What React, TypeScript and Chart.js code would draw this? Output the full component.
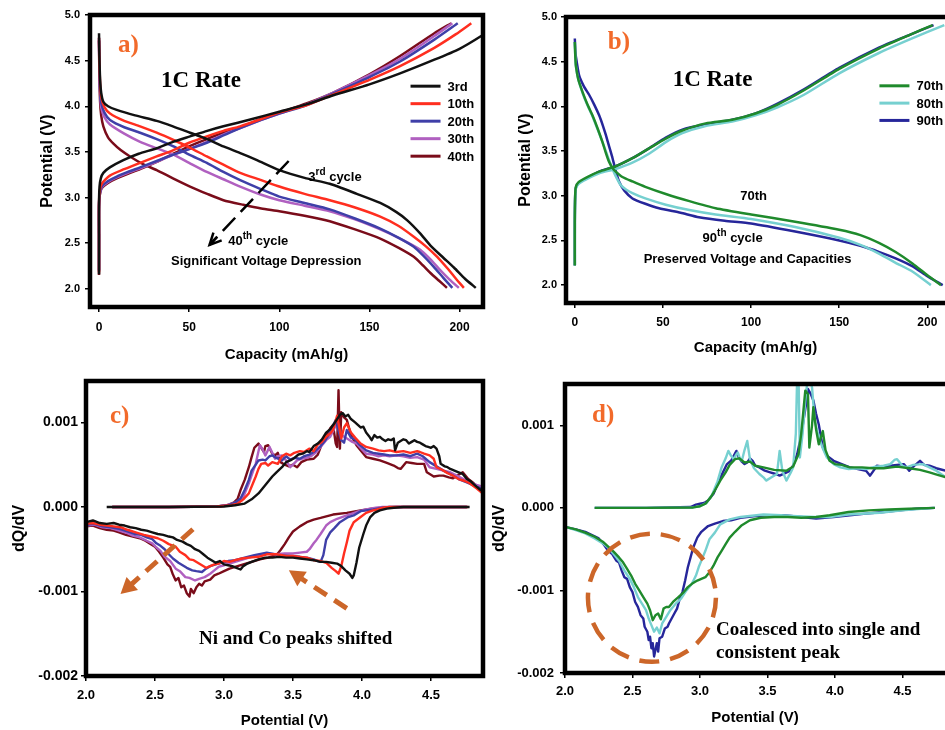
import React, { useEffect, useRef } from "react";
import { Chart, registerables } from "chart.js";

Chart.register(...registerables);

const SANS = "'Liberation Sans', Arial, Helvetica, sans-serif";
const SERIF = "'Liberation Serif', 'Times New Roman', serif";
Chart.defaults.font.family = SANS;

type Pt = [number, number];

// ---------------- tick values ----------------
const capTicks = [0, 50, 100, 150, 200];
const potTicks = [2.0, 2.5, 3.0, 3.5, 4.0, 4.5, 5.0];
const voltTicks = [2.0, 2.5, 3.0, 3.5, 4.0, 4.5];
const dqdvTicks = [-2, -1, 0, 1]; // in units of 1e-3

// ---------------- categories ----------------
const cyclesA = ["3rd", "10th", "20th", "30th", "40th"];
const cyclesB = ["70th", "80th", "90th"];
const colorsA = ["#111111", "#ff2e1f", "#3f3fa8", "#b060c0", "#7a0c1a"];
const colorsB = ["#1f8a2c", "#76d0d0", "#26269a"];

// ---------------- panel a: capacity (mAh/g) vs potential (V) ----------------
const a3Charge: Pt[] = [[0,2.16],[0,2.6],[0,2.95],[0.3,3.12],[1,3.21],[2.4,3.27],[6,3.33],[13.5,3.41],[22,3.48],[32,3.54],[41,3.61],[50.5,3.67],[60,3.73],[69,3.78],[85,3.86],[100,3.94],[115,4.02],[130,4.12],[150,4.24],[167,4.36],[186,4.51],[200,4.63],[212,4.77],[216,4.83]];
const a10Charge: Pt[] = [[0,2.18],[0,2.6],[0,2.92],[0.4,3.07],[1.5,3.15],[6,3.24],[14,3.31],[22.8,3.38],[32,3.45],[41.3,3.52],[50,3.6],[59.8,3.67],[69,3.73],[78.3,3.78],[90,3.86],[100,3.93],[115,4.01],[130,4.13],[150,4.29],[167,4.44],[186,4.64],[198,4.79],[206.5,4.91]];
const a20Charge: Pt[] = [[0,2.2],[0,2.6],[0,2.9],[0.4,3.04],[1.5,3.12],[5,3.18],[9.8,3.23],[16,3.28],[22.8,3.33],[32,3.4],[41.3,3.47],[50,3.53],[59.8,3.6],[69,3.68],[78.3,3.76],[90,3.85],[100,3.92],[115,4.01],[130,4.14],[150,4.32],[167,4.49],[186,4.73],[199,4.91]];
const a30Charge: Pt[] = [[0,2.2],[0,2.6],[0,2.9],[0.4,3.03],[1.5,3.11],[5,3.17],[9.8,3.22],[16,3.27],[22.8,3.32],[32,3.39],[41.3,3.47],[50,3.53],[59.8,3.61],[69,3.69],[78.3,3.76],[90,3.85],[100,3.92],[115,4.02],[130,4.15],[150,4.34],[167,4.52],[186,4.77],[196,4.91]];
const a40Charge: Pt[] = [[0,2.15],[0,2.6],[0,2.9],[0.4,3.02],[1.5,3.1],[5,3.16],[9.8,3.21],[16,3.26],[22.8,3.31],[32,3.39],[41.3,3.48],[50,3.56],[59.8,3.64],[69,3.71],[78.3,3.77],[90,3.86],[100,3.93],[115,4.03],[130,4.15],[150,4.35],[167,4.55],[186,4.8],[195.4,4.91]];

const a3Dis: Pt[] = [[0,4.8],[0.2,4.55],[0.6,4.3],[1.2,4.15],[2.4,4.05],[5,4.0],[9.8,3.96],[20,3.9],[32,3.84],[41,3.78],[50.5,3.71],[60,3.64],[69,3.56],[78,3.49],[87.6,3.41],[100,3.3],[115,3.21],[128,3.15],[143,3.04],[156,2.94],[165,2.84],[171,2.75],[178,2.61],[184,2.47],[191,2.34],[197,2.23],[203,2.11],[209,2.01]];
const a10Dis: Pt[] = [[0,4.75],[0.2,4.5],[0.6,4.25],[1.2,4.1],[3,3.99],[6.1,3.92],[14,3.84],[22.8,3.78],[32,3.71],[41.3,3.63],[50,3.55],[59.8,3.45],[69,3.36],[78.3,3.27],[90,3.19],[100,3.12],[114,3.04],[128,2.97],[142,2.89],[156,2.79],[166,2.69],[174.6,2.57],[181,2.47],[187.6,2.35],[193,2.23],[198,2.11],[202.4,2.01]];
const a20Dis: Pt[] = [[0,4.75],[0.2,4.45],[0.6,4.18],[1.2,4.04],[3,3.93],[6.1,3.85],[14,3.77],[22.8,3.71],[32,3.64],[41.3,3.56],[50,3.47],[59.8,3.38],[69,3.28],[78.3,3.19],[90,3.09],[100,3.01],[114,2.94],[128,2.87],[142,2.77],[156,2.66],[166,2.56],[174.6,2.46],[180,2.36],[185.7,2.24],[191,2.12],[196,2.01]];
const a30Dis: Pt[] = [[0,4.72],[0.2,4.4],[0.6,4.14],[1.2,3.99],[3,3.88],[6.1,3.8],[14,3.7],[22.8,3.61],[32,3.54],[41.3,3.47],[50,3.38],[59.8,3.28],[69,3.2],[78.3,3.12],[90,3.03],[100,2.97],[114,2.91],[128,2.85],[142,2.76],[156,2.65],[167,2.55],[178,2.43],[184,2.32],[189,2.21],[194.5,2.1],[199.6,2.01]];
const a40Dis: Pt[] = [[0,4.72],[0.2,4.35],[0.6,4.05],[1.2,3.9],[2.4,3.78],[5,3.66],[8,3.59],[12,3.52],[17.2,3.45],[24,3.37],[32,3.3],[41,3.21],[50.5,3.12],[60,3.04],[69,2.97],[80,2.92],[90,2.88],[100,2.85],[114,2.8],[128,2.74],[142,2.65],[156,2.55],[166,2.45],[174.6,2.35],[180,2.25],[184,2.17],[188.5,2.09],[193,2.01]];

// ---------------- panel b ----------------
const b70Charge: Pt[] = [[0,2.22],[0,2.7],[0.2,3.0],[0.6,3.1],[2,3.15],[6.2,3.2],[13.8,3.27],[23.2,3.33],[32.7,3.42],[42.1,3.53],[51.6,3.64],[61,3.73],[74.2,3.81],[89.3,3.85],[102.5,3.92],[115,4.02],[130,4.18],[150,4.42],[172.8,4.65],[190,4.8],[203,4.91]];
const b80Charge: Pt[] = [[0,2.22],[0,2.7],[0.2,2.98],[0.6,3.08],[2,3.13],[6.2,3.18],[13.8,3.25],[23.2,3.3],[32.7,3.37],[42.1,3.47],[51.6,3.6],[61,3.7],[74.2,3.78],[89.3,3.83],[102.5,3.9],[115,3.99],[130,4.13],[150,4.37],[172.8,4.6],[190,4.75],[209.6,4.91]];
const b90Charge: Pt[] = [[0,2.22],[0,2.7],[0.2,2.99],[0.6,3.09],[2,3.14],[6.2,3.19],[13.8,3.27],[23.2,3.33],[32.7,3.42],[42.1,3.53],[51.6,3.65],[61,3.74],[74.2,3.8],[89.3,3.85],[102.5,3.92],[115,4.03],[130,4.19],[150,4.43],[172.8,4.66],[190,4.8],[203.5,4.91]];

const b70Dis: Pt[] = [[0,4.72],[0.3,4.55],[0.6,4.46],[2,4.3],[4.4,4.16],[7,4.03],[10,3.9],[13,3.75],[15.7,3.6],[17.6,3.48],[19.4,3.38],[21.4,3.31],[23.2,3.27],[27,3.21],[32.7,3.16],[40,3.1],[51.6,3.02],[65,2.94],[79.9,2.86],[100,2.79],[125,2.71],[150,2.62],[162,2.56],[172.8,2.47],[182,2.37],[191.7,2.24],[200,2.11],[207.7,2.0]];
const b80Dis: Pt[] = [[0,4.72],[0.3,4.55],[0.6,4.45],[2,4.3],[4.4,4.15],[7,4.02],[10,3.89],[13,3.74],[15.7,3.6],[17.6,3.5],[19.4,3.4],[21.4,3.3],[23.2,3.22],[26,3.12],[29,3.07],[32.7,3.03],[40,2.97],[51.6,2.9],[65,2.84],[79.9,2.79],[100,2.74],[125,2.65],[150,2.53],[162,2.45],[172.8,2.35],[182,2.25],[191.7,2.15],[202,2.0]];
const b90Dis: Pt[] = [[0,4.76],[0.3,4.62],[0.6,4.56],[2.4,4.35],[5,4.23],[8.1,4.13],[11,4.02],[13.8,3.9],[16,3.78],[17.6,3.68],[19.5,3.55],[21.4,3.42],[23.2,3.28],[25.1,3.16],[28,3.06],[32.7,2.97],[40,2.91],[47.8,2.86],[60,2.81],[70.4,2.76],[85,2.72],[100,2.69],[125,2.6],[150,2.5],[162,2.44],[172.8,2.37],[182,2.3],[191.7,2.21],[200,2.1],[208.7,2.0]];

// ---------------- panel c: potential (V) vs dQ/dV (x1e-3) ----------------
const c3Ch: Pt[] = [[2.15,0],[2.6,0],[3.0,0.005],[3.08,0.02],[3.15,0.04],[3.2,0.09],[3.25,0.16],[3.3,0.26],[3.35,0.36],[3.38,0.41],[3.42,0.47],[3.45,0.53],[3.48,0.55],[3.51,0.58],[3.54,0.62],[3.57,0.63],[3.6,0.66],[3.62,0.65],[3.65,0.72],[3.68,0.75],[3.71,0.8],[3.74,0.88],[3.77,0.92],[3.8,0.99],[3.82,1.04],[3.84,1.09],[3.86,1.11],[3.88,1.07],[3.9,1.09],[3.92,1.04],[3.95,1.0],[3.97,0.97],[3.99,0.94],[4.01,0.95],[4.03,0.88],[4.05,0.84],[4.07,0.79],[4.09,0.85],[4.11,0.82],[4.13,0.83],[4.15,0.8],[4.17,0.78],[4.19,0.8],[4.21,0.79],[4.23,0.81],[4.24,0.67],[4.26,0.76],[4.28,0.78],[4.3,0.8],[4.32,0.79],[4.34,0.75],[4.36,0.77],[4.38,0.79],[4.4,0.77],[4.42,0.76],[4.44,0.74],[4.46,0.72],[4.48,0.71],[4.5,0.7],[4.52,0.72],[4.54,0.69],[4.56,0.6],[4.57,0.51],[4.6,0.48],[4.62,0.47],[4.64,0.45],[4.67,0.43],[4.7,0.41],[4.73,0.39],[4.76,0.33],[4.79,0.3],[4.81,0.27],[4.83,0.24],[4.86,0.2],[4.89,0.18],[4.92,0.16]];
const c10Ch: Pt[] = [[2.19,0],[2.6,0],[2.95,0.005],[3.05,0.02],[3.1,0.04],[3.14,0.09],[3.18,0.16],[3.21,0.28],[3.23,0.36],[3.25,0.45],[3.27,0.51],[3.3,0.52],[3.32,0.49],[3.35,0.53],[3.39,0.51],[3.42,0.6],[3.45,0.63],[3.48,0.61],[3.51,0.64],[3.55,0.66],[3.58,0.65],[3.62,0.69],[3.65,0.66],[3.68,0.74],[3.71,0.77],[3.74,0.83],[3.77,0.87],[3.79,0.91],[3.82,1.08],[3.85,0.81],[3.87,0.94],[3.89,0.99],[3.92,0.88],[3.95,0.82],[3.99,0.75],[4.03,0.71],[4.08,0.69],[4.12,0.67],[4.16,0.66],[4.2,0.67],[4.25,0.65],[4.3,0.66],[4.35,0.64],[4.4,0.66],[4.42,0.65],[4.45,0.63],[4.49,0.61],[4.52,0.57],[4.54,0.47],[4.58,0.44],[4.62,0.4],[4.66,0.37],[4.7,0.33],[4.74,0.31],[4.78,0.28],[4.83,0.22],[4.89,0.14]];
const c20Ch: Pt[] = [[2.19,0],[2.6,0],[2.95,0.005],[3.03,0.02],[3.08,0.05],[3.12,0.1],[3.15,0.2],[3.18,0.32],[3.2,0.43],[3.23,0.5],[3.25,0.55],[3.28,0.56],[3.3,0.55],[3.33,0.6],[3.35,0.61],[3.38,0.58],[3.42,0.55],[3.45,0.6],[3.48,0.56],[3.51,0.58],[3.55,0.57],[3.58,0.6],[3.62,0.62],[3.66,0.66],[3.7,0.72],[3.73,0.78],[3.76,0.86],[3.79,0.96],[3.81,1.03],[3.83,0.9],[3.85,0.79],[3.87,0.76],[3.89,0.91],[3.92,0.82],[3.95,0.8],[3.98,0.74],[4.03,0.67],[4.08,0.64],[4.12,0.63],[4.16,0.62],[4.2,0.61],[4.25,0.61],[4.3,0.62],[4.35,0.6],[4.4,0.63],[4.44,0.6],[4.49,0.53],[4.54,0.48],[4.59,0.43],[4.64,0.39],[4.7,0.33],[4.76,0.29],[4.83,0.24],[4.89,0.2]];
const c30Ch: Pt[] = [[2.19,0],[2.6,0],[2.95,0.005],[3.02,0.02],[3.08,0.05],[3.13,0.08],[3.16,0.2],[3.18,0.28],[3.21,0.42],[3.23,0.51],[3.25,0.66],[3.26,0.73],[3.28,0.68],[3.3,0.61],[3.33,0.71],[3.35,0.64],[3.37,0.57],[3.39,0.6],[3.42,0.61],[3.45,0.55],[3.48,0.47],[3.5,0.5],[3.53,0.55],[3.56,0.57],[3.6,0.58],[3.63,0.6],[3.67,0.65],[3.7,0.71],[3.74,0.79],[3.77,0.83],[3.8,0.93],[3.82,1.01],[3.84,0.87],[3.87,0.83],[3.9,0.8],[3.93,0.77],[3.96,0.75],[4.0,0.68],[4.03,0.63],[4.08,0.62],[4.12,0.6],[4.16,0.61],[4.2,0.6],[4.25,0.61],[4.3,0.6],[4.35,0.58],[4.4,0.59],[4.45,0.56],[4.49,0.47],[4.54,0.45],[4.59,0.43],[4.64,0.41],[4.7,0.36],[4.76,0.31],[4.83,0.26],[4.9,0.23]];
const c40Ch: Pt[] = [[2.19,0],[2.6,0],[2.95,0.005],[3.02,0.02],[3.07,0.05],[3.1,0.1],[3.12,0.2],[3.15,0.32],[3.18,0.47],[3.2,0.59],[3.22,0.7],[3.25,0.75],[3.27,0.7],[3.29,0.65],[3.3,0.72],[3.32,0.73],[3.35,0.63],[3.37,0.61],[3.39,0.64],[3.41,0.53],[3.44,0.5],[3.47,0.48],[3.5,0.5],[3.53,0.47],[3.56,0.53],[3.6,0.56],[3.65,0.57],[3.68,0.62],[3.72,0.79],[3.75,0.86],[3.77,0.93],[3.79,0.97],[3.81,0.75],[3.82,0.71],[3.83,1.38],[3.84,0.69],[3.85,1.12],[3.87,1.06],[3.89,1.03],[3.92,0.85],[3.96,0.73],[4.0,0.65],[4.03,0.59],[4.08,0.57],[4.13,0.55],[4.18,0.52],[4.23,0.49],[4.26,0.46],[4.28,0.45],[4.32,0.53],[4.36,0.52],[4.4,0.51],[4.45,0.51],[4.47,0.41],[4.52,0.36],[4.56,0.37],[4.59,0.37],[4.63,0.35],[4.66,0.34],[4.7,0.38],[4.73,0.41],[4.77,0.33],[4.81,0.28],[4.85,0.22],[4.9,0.16]];

const c3Dis: Pt[] = [[2.0,-0.18],[2.05,-0.16],[2.1,-0.19],[2.15,-0.2],[2.2,-0.19],[2.24,-0.21],[2.28,-0.22],[2.32,-0.24],[2.36,-0.25],[2.4,-0.27],[2.44,-0.28],[2.48,-0.3],[2.52,-0.32],[2.56,-0.33],[2.6,-0.35],[2.63,-0.36],[2.66,-0.39],[2.7,-0.41],[2.73,-0.44],[2.76,-0.46],[2.79,-0.5],[2.82,-0.52],[2.85,-0.56],[2.88,-0.6],[2.91,-0.63],[2.94,-0.66],[2.97,-0.64],[3.0,-0.68],[3.03,-0.69],[3.06,-0.7],[3.09,-0.72],[3.12,-0.74],[3.14,-0.7],[3.17,-0.67],[3.2,-0.65],[3.25,-0.62],[3.3,-0.6],[3.35,-0.6],[3.4,-0.59],[3.45,-0.6],[3.5,-0.6],[3.55,-0.61],[3.6,-0.62],[3.65,-0.63],[3.7,-0.65],[3.74,-0.65],[3.78,-0.66],[3.82,-0.67],[3.85,-0.7],[3.88,-0.75],[3.91,-0.79],[3.93,-0.84],[3.94,-0.81],[3.96,-0.66],[3.98,-0.48],[4.01,-0.32],[4.03,-0.22],[4.06,-0.12],[4.09,-0.07],[4.13,-0.04],[4.18,-0.02],[4.23,-0.01],[4.3,0],[4.78,0]];
const c10Dis: Pt[] = [[2.0,-0.2],[2.05,-0.19],[2.1,-0.21],[2.15,-0.22],[2.2,-0.23],[2.25,-0.24],[2.3,-0.27],[2.36,-0.3],[2.42,-0.33],[2.47,-0.35],[2.52,-0.37],[2.56,-0.4],[2.6,-0.44],[2.65,-0.47],[2.68,-0.53],[2.72,-0.57],[2.75,-0.62],[2.78,-0.63],[2.81,-0.66],[2.84,-0.69],[2.87,-0.72],[2.9,-0.7],[2.93,-0.68],[2.96,-0.67],[3.0,-0.64],[3.04,-0.65],[3.08,-0.63],[3.13,-0.61],[3.18,-0.6],[3.25,-0.59],[3.31,-0.56],[3.38,-0.56],[3.45,-0.58],[3.5,-0.58],[3.55,-0.59],[3.6,-0.6],[3.65,-0.63],[3.7,-0.64],[3.74,-0.66],[3.78,-0.72],[3.81,-0.76],[3.83,-0.79],[3.85,-0.7],[3.87,-0.55],[3.89,-0.42],[3.91,-0.28],[3.94,-0.18],[3.99,-0.12],[4.03,-0.07],[4.08,-0.04],[4.11,-0.03],[4.15,-0.01],[4.2,0],[4.77,0]];
const c20Dis: Pt[] = [[2.0,-0.21],[2.06,-0.2],[2.12,-0.23],[2.18,-0.24],[2.24,-0.26],[2.3,-0.29],[2.35,-0.32],[2.4,-0.33],[2.44,-0.36],[2.48,-0.38],[2.51,-0.43],[2.54,-0.46],[2.57,-0.5],[2.6,-0.56],[2.63,-0.61],[2.67,-0.66],[2.7,-0.69],[2.73,-0.72],[2.77,-0.75],[2.8,-0.76],[2.84,-0.77],[2.87,-0.73],[2.9,-0.7],[2.94,-0.68],[2.98,-0.66],[3.03,-0.64],[3.08,-0.63],[3.15,-0.6],[3.22,-0.57],[3.31,-0.54],[3.4,-0.57],[3.48,-0.58],[3.55,-0.59],[3.6,-0.6],[3.65,-0.62],[3.68,-0.64],[3.7,-0.65],[3.72,-0.57],[3.74,-0.39],[3.77,-0.3],[3.8,-0.25],[3.84,-0.18],[3.9,-0.12],[3.94,-0.1],[3.99,-0.05],[4.08,-0.03],[4.15,-0.01],[4.2,0],[4.76,0]];
const c30Dis: Pt[] = [[2.0,-0.22],[2.06,-0.21],[2.12,-0.24],[2.18,-0.25],[2.24,-0.28],[2.3,-0.31],[2.34,-0.34],[2.39,-0.36],[2.44,-0.4],[2.48,-0.43],[2.51,-0.48],[2.54,-0.52],[2.57,-0.59],[2.61,-0.64],[2.65,-0.73],[2.68,-0.76],[2.72,-0.83],[2.75,-0.84],[2.79,-0.87],[2.82,-0.85],[2.86,-0.83],[2.9,-0.79],[2.93,-0.75],[2.96,-0.71],[3.0,-0.69],[3.04,-0.67],[3.08,-0.65],[3.14,-0.62],[3.2,-0.59],[3.25,-0.57],[3.31,-0.55],[3.38,-0.56],[3.44,-0.55],[3.5,-0.55],[3.55,-0.54],[3.6,-0.53],[3.62,-0.5],[3.65,-0.43],[3.67,-0.39],[3.7,-0.32],[3.74,-0.22],[3.77,-0.18],[3.82,-0.14],[3.89,-0.1],[3.96,-0.06],[4.03,-0.03],[4.1,-0.01],[4.15,0],[4.76,0]];
const c40Dis: Pt[] = [[2.0,-0.23],[2.05,-0.22],[2.1,-0.25],[2.15,-0.27],[2.2,-0.28],[2.24,-0.3],[2.29,-0.33],[2.34,-0.35],[2.39,-0.37],[2.43,-0.4],[2.47,-0.44],[2.5,-0.47],[2.53,-0.53],[2.56,-0.6],[2.59,-0.68],[2.61,-0.71],[2.63,-0.8],[2.65,-0.87],[2.67,-0.84],[2.69,-0.95],[2.71,-0.93],[2.73,-1.02],[2.75,-1.06],[2.76,-0.97],[2.78,-1.02],[2.8,-0.95],[2.82,-0.91],[2.84,-0.93],[2.86,-0.88],[2.9,-0.86],[2.93,-0.81],[2.96,-0.79],[3.0,-0.76],[3.04,-0.73],[3.08,-0.71],[3.14,-0.68],[3.2,-0.65],[3.26,-0.62],[3.32,-0.6],[3.36,-0.58],[3.39,-0.55],[3.41,-0.51],[3.44,-0.44],[3.47,-0.36],[3.5,-0.29],[3.55,-0.23],[3.6,-0.18],[3.65,-0.15],[3.7,-0.13],[3.79,-0.09],[3.89,-0.07],[3.99,-0.04],[4.07,-0.02],[4.15,-0.01],[4.25,0],[4.76,0]];

// ---------------- panel d ----------------
const d70Ch: Pt[] = [[2.22,0],[2.6,0],[2.95,0.005],[3.0,0.02],[3.04,0.05],[3.08,0.13],[3.11,0.21],[3.15,0.33],[3.19,0.43],[3.22,0.52],[3.26,0.59],[3.29,0.6],[3.33,0.55],[3.37,0.56],[3.41,0.51],[3.47,0.49],[3.55,0.46],[3.64,0.45],[3.69,0.5],[3.73,0.65],[3.75,0.9],[3.78,1.42],[3.8,1.38],[3.81,0.73],[3.83,1.0],[3.84,1.22],[3.86,0.95],[3.88,0.77],[3.91,0.93],[3.93,0.7],[3.96,0.57],[4.0,0.53],[4.05,0.52],[4.11,0.49],[4.2,0.49],[4.28,0.48],[4.36,0.48],[4.46,0.5],[4.55,0.48],[4.63,0.46],[4.7,0.43],[4.76,0.4],[4.82,0.37]];
const d80Ch: Pt[] = [[2.22,0],[2.6,0],[2.95,0.005],[3.0,0.02],[3.05,0.06],[3.09,0.16],[3.13,0.32],[3.16,0.49],[3.19,0.6],[3.21,0.69],[3.23,0.63],[3.25,0.59],[3.27,0.65],[3.28,0.67],[3.3,0.58],[3.31,0.57],[3.33,0.7],[3.35,0.81],[3.37,0.59],[3.4,0.48],[3.44,0.41],[3.47,0.37],[3.49,0.33],[3.53,0.37],[3.57,0.41],[3.59,0.69],[3.61,0.45],[3.64,0.33],[3.67,0.42],[3.69,0.49],[3.71,0.9],[3.72,1.6],[3.73,1.6],[3.74,0.61],[3.76,0.9],[3.78,1.3],[3.8,1.6],[3.83,1.46],[3.85,1.05],[3.87,0.92],[3.89,0.81],[3.91,0.72],[3.94,0.61],[3.99,0.53],[4.04,0.49],[4.1,0.47],[4.17,0.48],[4.23,0.47],[4.3,0.5],[4.36,0.51],[4.41,0.53],[4.44,0.58],[4.46,0.59],[4.5,0.51],[4.53,0.49],[4.58,0.52],[4.65,0.53],[4.7,0.49],[4.75,0.45],[4.82,0.37]];
const d90Ch: Pt[] = [[2.22,0],[2.6,0],[2.93,0.01],[2.97,0.04],[3.0,0.05],[3.03,0.06],[3.06,0.09],[3.1,0.17],[3.14,0.33],[3.17,0.43],[3.2,0.53],[3.23,0.57],[3.25,0.63],[3.27,0.69],[3.29,0.6],[3.31,0.56],[3.33,0.53],[3.35,0.55],[3.37,0.6],[3.39,0.57],[3.41,0.51],[3.44,0.49],[3.48,0.45],[3.52,0.43],[3.56,0.41],[3.59,0.39],[3.63,0.42],[3.67,0.45],[3.7,0.55],[3.72,0.65],[3.75,0.88],[3.77,1.09],[3.79,1.3],[3.8,1.44],[3.82,1.38],[3.84,1.3],[3.86,1.14],[3.88,1.01],[3.91,0.73],[3.94,0.63],[3.99,0.57],[4.05,0.53],[4.11,0.49],[4.17,0.47],[4.23,0.45],[4.26,0.39],[4.29,0.46],[4.31,0.51],[4.36,0.5],[4.41,0.51],[4.46,0.52],[4.51,0.53],[4.55,0.45],[4.58,0.5],[4.63,0.57],[4.66,0.52],[4.7,0.51],[4.75,0.48],[4.82,0.45]];

const d70Dis: Pt[] = [[2.0,-0.23],[2.08,-0.26],[2.15,-0.3],[2.22,-0.35],[2.28,-0.41],[2.32,-0.47],[2.36,-0.53],[2.4,-0.6],[2.43,-0.66],[2.46,-0.74],[2.49,-0.82],[2.52,-0.92],[2.55,-1.0],[2.58,-1.08],[2.61,-1.16],[2.63,-1.24],[2.65,-1.36],[2.67,-1.3],[2.69,-1.28],[2.71,-1.35],[2.73,-1.22],[2.75,-1.2],[2.77,-1.2],[2.8,-1.14],[2.84,-1.08],[2.88,-1.02],[2.91,-0.96],[2.94,-0.92],[2.98,-0.88],[3.01,-0.86],[3.04,-0.84],[3.07,-0.78],[3.1,-0.7],[3.13,-0.6],[3.16,-0.52],[3.19,-0.44],[3.22,-0.36],[3.26,-0.29],[3.31,-0.21],[3.37,-0.15],[3.45,-0.12],[3.55,-0.11],[3.65,-0.11],[3.75,-0.12],[3.86,-0.11],[3.96,-0.09],[4.1,-0.05],[4.25,-0.03],[4.4,-0.02],[4.55,-0.01],[4.74,0]];
const d80Dis: Pt[] = [[2.0,-0.23],[2.08,-0.27],[2.15,-0.31],[2.22,-0.37],[2.28,-0.43],[2.32,-0.48],[2.36,-0.56],[2.4,-0.64],[2.44,-0.76],[2.48,-0.86],[2.51,-0.96],[2.54,-1.08],[2.57,-1.16],[2.6,-1.24],[2.62,-1.34],[2.64,-1.42],[2.66,-1.5],[2.68,-1.45],[2.7,-1.52],[2.72,-1.4],[2.75,-1.32],[2.78,-1.24],[2.82,-1.16],[2.86,-1.1],[2.9,-1.0],[2.94,-0.92],[2.97,-0.82],[2.99,-0.72],[3.02,-0.6],[3.04,-0.52],[3.07,-0.38],[3.11,-0.3],[3.15,-0.2],[3.22,-0.14],[3.3,-0.11],[3.47,-0.08],[3.6,-0.09],[3.72,-0.1],[3.85,-0.11],[3.96,-0.11],[4.1,-0.08],[4.33,-0.06],[4.5,-0.03],[4.73,0]];
const d90Dis: Pt[] = [[2.0,-0.23],[2.08,-0.26],[2.15,-0.29],[2.2,-0.33],[2.25,-0.37],[2.29,-0.45],[2.32,-0.52],[2.35,-0.56],[2.38,-0.64],[2.4,-0.66],[2.42,-0.76],[2.44,-0.84],[2.46,-0.86],[2.48,-0.96],[2.5,-1.02],[2.52,-1.14],[2.54,-1.2],[2.56,-1.3],[2.58,-1.34],[2.59,-1.44],[2.61,-1.5],[2.62,-1.6],[2.63,-1.56],[2.64,-1.7],[2.65,-1.64],[2.66,-1.8],[2.67,-1.72],[2.68,-1.64],[2.69,-1.74],[2.7,-1.58],[2.72,-1.56],[2.74,-1.46],[2.76,-1.44],[2.77,-1.4],[2.79,-1.34],[2.81,-1.28],[2.83,-1.22],[2.85,-1.1],[2.87,-1.02],[2.89,-0.88],[2.91,-0.72],[2.93,-0.6],[2.95,-0.48],[2.98,-0.36],[3.01,-0.29],[3.06,-0.22],[3.11,-0.19],[3.17,-0.16],[3.23,-0.15],[3.3,-0.12],[3.41,-0.1],[3.5,-0.09],[3.62,-0.09],[3.75,-0.11],[3.86,-0.13],[3.99,-0.11],[4.11,-0.09],[4.23,-0.07],[4.36,-0.05],[4.48,-0.03],[4.6,-0.01],[4.74,0]];

const chargeA = [a3Charge, a10Charge, a20Charge, a30Charge, a40Charge];
const dischargeA = [a3Dis, a10Dis, a20Dis, a30Dis, a40Dis];
const chargeB = [b70Charge, b80Charge, b90Charge];
const dischargeB = [b70Dis, b80Dis, b90Dis];
const chargeC = [c3Ch, c10Ch, c20Ch, c30Ch, c40Ch];
const dischargeC = [c3Dis, c10Dis, c20Dis, c30Dis, c40Dis];
const chargeD = [d70Ch, d80Ch, d90Ch];
const dischargeD = [d70Dis, d80Dis, d90Dis];

const ORANGE_LABEL = "#f26a2a";
const ORANGE_MARK = "#cc6629";

// ---------------- drawing helpers ----------------
function fontStr(size: number, family: string, weight = "bold") {
  return `${weight} ${size}px ${family}`;
}

function drawText(ctx: CanvasRenderingContext2D, x: number, y: number, it: any) {
  const main = fontStr(it.size, it.family);
  const sup = fontStr(Math.round(it.size * 0.78), it.family);
  let total = 0;
  for (const p of it.parts) {
    ctx.font = p.sup ? sup : main;
    total += ctx.measureText(p.t).width;
  }
  let cx = it.align === "center" ? x - total / 2 : x;
  const base = y + it.size * 0.36;
  ctx.fillStyle = it.color;
  ctx.textBaseline = "alphabetic";
  ctx.textAlign = "left";
  for (const p of it.parts) {
    ctx.font = p.sup ? sup : main;
    ctx.fillText(p.t, cx, p.sup ? base - it.size * 0.45 : base);
    cx += ctx.measureText(p.t).width;
  }
}

function drawArrow(ctx: CanvasRenderingContext2D, x1: number, y1: number, x2: number, y2: number, it: any) {
  const ang = Math.atan2(y2 - y1, x2 - x1);
  const hl = it.head;
  const back = it.filled ? hl * 0.85 : 0;
  const ex = x2 - Math.cos(ang) * back;
  const ey = y2 - Math.sin(ang) * back;
  ctx.strokeStyle = it.color;
  ctx.fillStyle = it.color;
  ctx.lineWidth = it.width;
  ctx.lineCap = "butt";
  ctx.setLineDash(it.dash);
  ctx.beginPath();
  ctx.moveTo(x1, y1);
  ctx.lineTo(ex, ey);
  ctx.stroke();
  ctx.setLineDash([]);
  const a1 = ang + Math.PI - it.spread;
  const a2 = ang + Math.PI + it.spread;
  if (it.filled) {
    ctx.beginPath();
    ctx.moveTo(x2, y2);
    ctx.lineTo(x2 + Math.cos(a1) * hl, y2 + Math.sin(a1) * hl);
    ctx.lineTo(x2 + Math.cos(a2) * hl, y2 + Math.sin(a2) * hl);
    ctx.closePath();
    ctx.fill();
  } else {
    ctx.lineWidth = it.width;
    ctx.beginPath();
    ctx.moveTo(x2 + Math.cos(a1) * hl, y2 + Math.sin(a1) * hl);
    ctx.lineTo(x2, y2);
    ctx.lineTo(x2 + Math.cos(a2) * hl, y2 + Math.sin(a2) * hl);
    ctx.moveTo(x2, y2);
    ctx.lineTo(x2 - Math.cos(ang) * hl * 0.8, y2 - Math.sin(ang) * hl * 0.8);
    ctx.stroke();
  }
}

function decoPlugin(cfg: any) {
  return {
    id: "deco",
    afterDatasetsDraw(chart: any) {
      const { ctx, chartArea: ca } = chart;
      const sx = chart.scales.x;
      const sy = chart.scales.y;
      const X = (v: number) => sx.getPixelForValue(v);
      const Y = (v: number) => sy.getPixelForValue(v);
      ctx.save();
      for (const it of cfg.items) {
        if (it.kind === "text") drawText(ctx, X(it.x), Y(it.y), it);
        else if (it.kind === "arrow") drawArrow(ctx, X(it.x1), Y(it.y1), X(it.x2), Y(it.y2), it);
        else if (it.kind === "circle") {
          ctx.strokeStyle = it.color;
          ctx.lineWidth = it.width;
          ctx.setLineDash(it.dash);
          ctx.beginPath();
          ctx.arc(X(it.x), Y(it.y), it.r, 0, Math.PI * 2);
          ctx.stroke();
          ctx.setLineDash([]);
        }
      }
      if (cfg.legend) {
        const lg = cfg.legend;
        const lx = X(lg.x);
        const ly = Y(lg.y);
        lg.labels.forEach((lab: string, i: number) => {
          const yy = ly + i * lg.rowGap;
          ctx.strokeStyle = lg.colors[i];
          ctx.lineWidth = 3;
          ctx.setLineDash([]);
          ctx.beginPath();
          ctx.moveTo(lx, yy);
          ctx.lineTo(lx + lg.lineLen, yy);
          ctx.stroke();
          ctx.fillStyle = "#000";
          ctx.font = fontStr(lg.size, SANS);
          ctx.textAlign = "left";
          ctx.textBaseline = "middle";
          ctx.fillText(lab, lx + lg.lineLen + lg.gap, yy + 1);
        });
      }
      // frame
      const s = cfg.sides;
      ctx.strokeStyle = "#000";
      ctx.lineWidth = cfg.frameWidth;
      ctx.lineCap = "square";
      ctx.setLineDash([]);
      ctx.beginPath();
      if (s.includes("top")) { ctx.moveTo(ca.left, ca.top); ctx.lineTo(ca.right, ca.top); }
      if (s.includes("bottom")) { ctx.moveTo(ca.left, ca.bottom); ctx.lineTo(ca.right, ca.bottom); }
      if (s.includes("left")) { ctx.moveTo(ca.left, ca.top); ctx.lineTo(ca.left, ca.bottom); }
      if (s.includes("right")) { ctx.moveTo(ca.right, ca.top); ctx.lineTo(ca.right, ca.bottom); }
      ctx.stroke();
      ctx.restore();
    },
  };
}

function buildConfig(p: any) {
  const datasets: any[] = [];
  p.charge.forEach((ch: Pt[], i: number) => {
    for (const arr of [ch, p.discharge[i]]) {
      datasets.push({
        data: arr.map(([x, y]) => ({ x, y })),
        showLine: true,
        borderColor: p.colors[i],
        backgroundColor: p.colors[i],
        borderWidth: p.lineWidth,
        pointRadius: 0,
        tension: p.tension,
        fill: false,
        borderJoinStyle: "round",
      });
    }
  });
  const tickGrid = { display: true, drawOnChartArea: false, drawTicks: true, tickLength: 5, color: "#000", lineWidth: 1.5 };
  return {
    type: "scatter",
    data: { datasets },
    options: {
      animation: false,
      responsive: false,
      devicePixelRatio: 1,
      events: [],
      layout: { padding: { top: p.padTop, right: p.padRight, left: 0, bottom: 0 } },
      plugins: { legend: { display: false }, tooltip: { enabled: false } },
      scales: {
        x: {
          type: "linear",
          min: p.xMin,
          max: p.xMax,
          afterBuildTicks: (s: any) => { s.ticks = p.xTicks.map((v: number) => ({ value: v })); },
          afterFit: (s: any) => { s.height = p.xAxisH; },
          ticks: {
            autoSkip: false,
            maxRotation: 0,
            color: "#000",
            padding: p.xTickPad,
            font: { family: SANS, size: p.xTickSize, weight: "bold" },
            callback: (v: number) => p.xFmt(v),
          },
          grid: tickGrid,
          border: { display: false },
          title: {
            display: true,
            text: p.xTitle,
            color: "#000",
            font: { family: SANS, size: 15, weight: "bold" },
            padding: { top: 0, bottom: p.xTitlePad },
          },
        },
        y: {
          type: "linear",
          min: p.yMin,
          max: p.yMax,
          afterBuildTicks: (s: any) => { s.ticks = p.yTicks.map((v: number) => ({ value: v })); },
          afterFit: (s: any) => { s.width = p.yAxisW; },
          ticks: {
            autoSkip: false,
            color: "#000",
            padding: p.yTickPad,
            font: { family: SANS, size: p.yTickSize, weight: "bold" },
            callback: (v: number) => p.yFmt(v),
          },
          grid: tickGrid,
          border: { display: false },
          title: {
            display: true,
            text: p.yTitle,
            color: "#000",
            font: { family: SANS, size: p.yTitleSize, weight: "bold" },
            padding: { top: p.yTitlePad, bottom: 0 },
          },
        },
      },
    },
    plugins: [decoPlugin(p.deco)],
  };
}

const fmt1 = (v: number) => v.toFixed(1);
const fmtInt = (v: number) => String(v);
const fmtMilli = (v: number) => (v / 1000).toFixed(3);

const panelA = {
  charge: chargeA, discharge: dischargeA, colors: colorsA, lineWidth: 2.5, tension: 0.2,
  xMin: -5, xMax: 213, yMin: 1.8, yMax: 5.0, xTicks: capTicks, yTicks: potTicks,
  xFmt: fmtInt, yFmt: fmt1, xTitle: "Capacity (mAh/g)", yTitle: "Potential (V)",
  padTop: 15, padRight: 7, xAxisH: 58, yAxisW: 90, xTickPad: 8, yTickPad: 5,
  xTickSize: 12, yTickSize: 11, xTitlePad: 1, yTitlePad: 38, yTitleSize: 16,
  deco: {
    sides: ["top", "bottom", "left", "right"], frameWidth: 4.5,
    items: [
      { kind: "text", x: 10.6, y: 4.69, parts: [{ t: "a)" }], size: 25, family: SERIF, color: ORANGE_LABEL, align: "left" },
      { kind: "text", x: 34.4, y: 4.30, parts: [{ t: "1C Rate" }], size: 23, family: SERIF, color: "#000", align: "left" },
      { kind: "text", x: 116.1, y: 3.23, parts: [{ t: "3" }, { t: "rd", sup: true }, { t: " cycle" }], size: 13, family: SANS, color: "#000", align: "left" },
      { kind: "text", x: 71.7, y: 2.53, parts: [{ t: "40" }, { t: "th", sup: true }, { t: " cycle" }], size: 13, family: SANS, color: "#000", align: "left" },
      { kind: "text", x: 92.8, y: 2.31, parts: [{ t: "Significant Voltage Depression" }], size: 13, family: SANS, color: "#000", align: "center" },
      { kind: "arrow", x1: 105.2, y1: 3.40, x2: 61.3, y2: 2.48, color: "#000", width: 2.5, dash: [18, 8], head: 13, spread: 0.45, filled: false },
    ],
    legend: { x: 172.8, y: 4.22, labels: cyclesA, colors: colorsA, rowGap: 17.5, lineLen: 30, gap: 7, size: 13 },
  },
};

const panelB = {
  charge: chargeB, discharge: dischargeB, colors: colorsB, lineWidth: 2.5, tension: 0.2,
  xMin: -5, xMax: 210, yMin: 1.8, yMax: 5.0, xTicks: capTicks, yTicks: potTicks,
  xFmt: fmtInt, yFmt: fmt1, xTitle: "Capacity (mAh/g)", yTitle: "Potential (V)",
  padTop: 17, padRight: 0, xAxisH: 62, yAxisW: 86, xTickPad: 7, yTickPad: 4,
  xTickSize: 12, yTickSize: 11, xTitlePad: 8, yTitlePad: 36, yTitleSize: 16,
  deco: {
    sides: ["top", "bottom", "left"], frameWidth: 4.5,
    items: [
      { kind: "text", x: 18.7, y: 4.74, parts: [{ t: "b)" }], size: 25, family: SERIF, color: ORANGE_LABEL, align: "left" },
      { kind: "text", x: 55.5, y: 4.32, parts: [{ t: "1C Rate" }], size: 23, family: SERIF, color: "#000", align: "left" },
      { kind: "text", x: 101.4, y: 3.0, parts: [{ t: "70th" }], size: 13, family: SANS, color: "#000", align: "center" },
      { kind: "text", x: 72.5, y: 2.54, parts: [{ t: "90" }, { t: "th", sup: true }, { t: " cycle" }], size: 13, family: SANS, color: "#000", align: "left" },
      { kind: "text", x: 98, y: 2.30, parts: [{ t: "Preserved Voltage and Capacities" }], size: 13, family: SANS, color: "#000", align: "center" },
    ],
    legend: { x: 172.8, y: 4.23, labels: cyclesB, colors: colorsB, rowGap: 17.3, lineLen: 30, gap: 7, size: 13 },
  },
};

const panelC = {
  charge: chargeC, discharge: dischargeC, colors: colorsA, lineWidth: 2.4, tension: 0,
  xMin: 2.0, xMax: 4.877, yMin: -2, yMax: 1.49, xTicks: voltTicks, yTicks: dqdvTicks,
  xFmt: fmt1, yFmt: fmtMilli, xTitle: "Potential (V)", yTitle: "dQ/dV",
  padTop: 13, padRight: 7, xAxisH: 54, yAxisW: 86, xTickPad: 7, yTickPad: 3,
  xTickSize: 13, yTickSize: 14, xTitlePad: 0, yTitlePad: 10, yTitleSize: 16,
  deco: {
    sides: ["top", "bottom", "left", "right"], frameWidth: 4.5,
    items: [
      { kind: "text", x: 2.174, y: 1.097, parts: [{ t: "c)" }], size: 25, family: SERIF, color: ORANGE_LABEL, align: "left" },
      { kind: "text", x: 2.819, y: -1.542, parts: [{ t: "Ni and Co peaks shifted" }], size: 19, family: SERIF, color: "#000", align: "left" },
      { kind: "arrow", x1: 2.775, y1: -0.264, x2: 2.25, y2: -1.03, color: ORANGE_MARK, width: 5, dash: [15, 9], head: 18, spread: 0.5, filled: true },
      { kind: "arrow", x1: 3.89, y1: -1.20, x2: 3.47, y2: -0.75, color: ORANGE_MARK, width: 5, dash: [15, 9], head: 18, spread: 0.5, filled: true },
    ],
    legend: null,
  },
};

const panelD = {
  charge: chargeD, discharge: dischargeD, colors: colorsB, lineWidth: 2.4, tension: 0,
  xMin: 2.0, xMax: 4.815, yMin: -2, yMax: 1.5, xTicks: voltTicks, yTicks: dqdvTicks,
  xFmt: fmt1, yFmt: fmtMilli, xTitle: "Potential (V)", yTitle: "dQ/dV",
  padTop: 16, padRight: 0, xAxisH: 57, yAxisW: 85, xTickPad: 6, yTickPad: 6,
  xTickSize: 13, yTickSize: 13, xTitlePad: 3, yTitlePad: 10, yTitleSize: 16,
  deco: {
    sides: ["top", "bottom", "left"], frameWidth: 4.5,
    items: [
      { kind: "text", x: 2.2, y: 1.151, parts: [{ t: "d)" }], size: 25, family: SERIF, color: ORANGE_LABEL, align: "left" },
      { kind: "circle", x: 2.644, y: -1.089, r: 64, color: ORANGE_MARK, width: 4.5, dash: [20, 11] },
      { kind: "text", x: 3.119, y: -1.458, parts: [{ t: "Coalesced into single and" }], size: 19, family: SERIF, color: "#000", align: "left" },
      { kind: "text", x: 3.119, y: -1.733, parts: [{ t: "consistent peak" }], size: 19, family: SERIF, color: "#000", align: "left" },
    ],
    legend: null,
  },
};

function Panel({ left, top, width, height, spec }: any) {
  const ref = useRef<HTMLCanvasElement>(null);
  useEffect(() => {
    const chart = new Chart(ref.current as HTMLCanvasElement, buildConfig(spec) as any);
    return () => chart.destroy();
  }, [spec]);
  return (
    <canvas
      ref={ref}
      width={width}
      height={height}
      style={{ position: "absolute", left, top, width, height, display: "block" }}
    />
  );
}

export default function App() {
  return (
    <div style={{ position: "absolute", left: 0, top: 0, width: 945, height: 730, background: "#fff", overflow: "hidden" }}>
      <Panel left={0} top={0} width={490} height={365} spec={panelA} />
      <Panel left={480} top={0} width={465} height={365} spec={panelB} />
      <Panel left={0} top={368} width={490} height={362} spec={panelC} />
      <Panel left={480} top={368} width={465} height={362} spec={panelD} />
    </div>
  );
}
